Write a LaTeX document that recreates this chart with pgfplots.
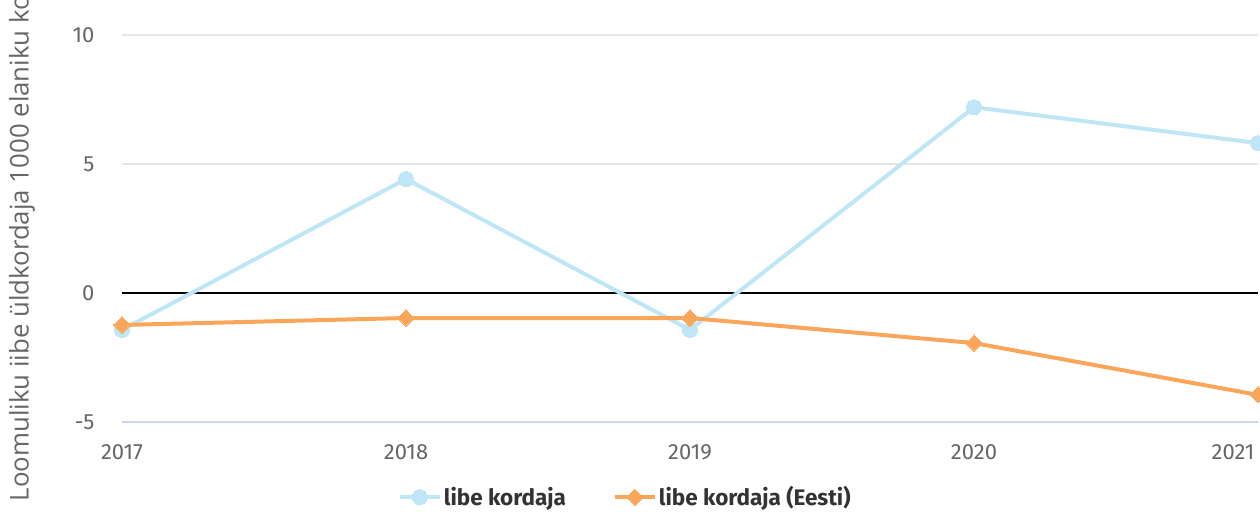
\documentclass[border=0pt]{standalone}
\usepackage{fontspec}
\setmainfont{Fira Sans}
\newfontfamily\labelfont{Open Sans}
\usepackage{pgfplots}
\pgfplotsset{compat=1.18}
\definecolor{cblue}{HTML}{BFE6F6}
\definecolor{corange}{HTML}{F9A65A}
\definecolor{gridc}{HTML}{E6E6E6}
\definecolor{axc}{HTML}{CCD6EB}
\definecolor{tickc}{HTML}{666666}
\definecolor{legc}{HTML}{333333}
\begin{document}
\begin{tikzpicture}
\begin{axis}[
  scale only axis, width=1136pt, height=387pt,
  xmin=2017, xmax=2021, ymin=-5, ymax=10,
  xtick={2017,2018,2019,2020},
  extra x ticks={2021},
  extra x tick style={xticklabel style={anchor=north east, xshift=0pt}},
  ytick={-5,5,10},
  extra y ticks={0},
  extra y tick style={grid style={black, line width=2pt}},
  axis x line*=bottom, axis y line*=left,
  x axis line style={axc, line width=1.5pt, -},
  y axis line style={draw=none},
  major tick length=0pt,
  ymajorgrids,
  grid style={gridc, line width=1.5pt},
  /pgf/number format/assume math mode=true,
  ticklabel style={font=\fontsize{22}{26}\selectfont, text=tickc},
  xticklabel style={/pgf/number format/1000 sep={}, yshift=-19pt},
  yticklabel style={xshift=-24pt},
  ylabel={Loomuliku iibe üldkordaja 1000 elaniku kohta},
  every axis y label/.style={at={(rel axis cs:0,0.5)}, rotate=90, anchor=center, yshift=100pt, font=\labelfont\fontsize{25.8}{30}\selectfont, text=tickc},
  clip=false,
  legend columns=2,
  legend style={at={(rel axis cs:0.443,-0.194)}, anchor=center, draw=none, fill=none,
    font=\bfseries\fontsize{22.5}{26}\selectfont, text=legc,
    /tikz/every even column/.append style={column sep=45pt}},
  legend image code/.code={\draw[#1, mark repeat=2, mark phase=2] plot coordinates {(0pt,0pt) (20pt,0pt) (40pt,0pt)};},
]
\addplot[cblue, line width=4pt, mark=*, mark size=7.5pt, mark options={fill=cblue, draw=cblue, line width=0pt}]
  coordinates {(2017,-1.43) (2018,4.42) (2019,-1.43) (2020,7.2) (2021,5.81)};
\addlegendentry{libe kordaja}
\addplot[corange, line width=4pt, mark=square*, mark size=5.7pt, mark options={rotate=45, fill=corange, draw=corange, line width=0pt}]
  coordinates {(2017,-1.24) (2018,-0.97) (2019,-0.97) (2020,-1.94) (2021,-3.95)};
\addlegendentry{libe kordaja (Eesti)}
\end{axis}
\pgfresetboundingbox
\path[use as bounding box] ([xshift=-122pt,yshift=-89pt]current axis.south west) rectangle ([xshift=2pt,yshift=35pt]current axis.north east);
\end{tikzpicture}
\end{document}
